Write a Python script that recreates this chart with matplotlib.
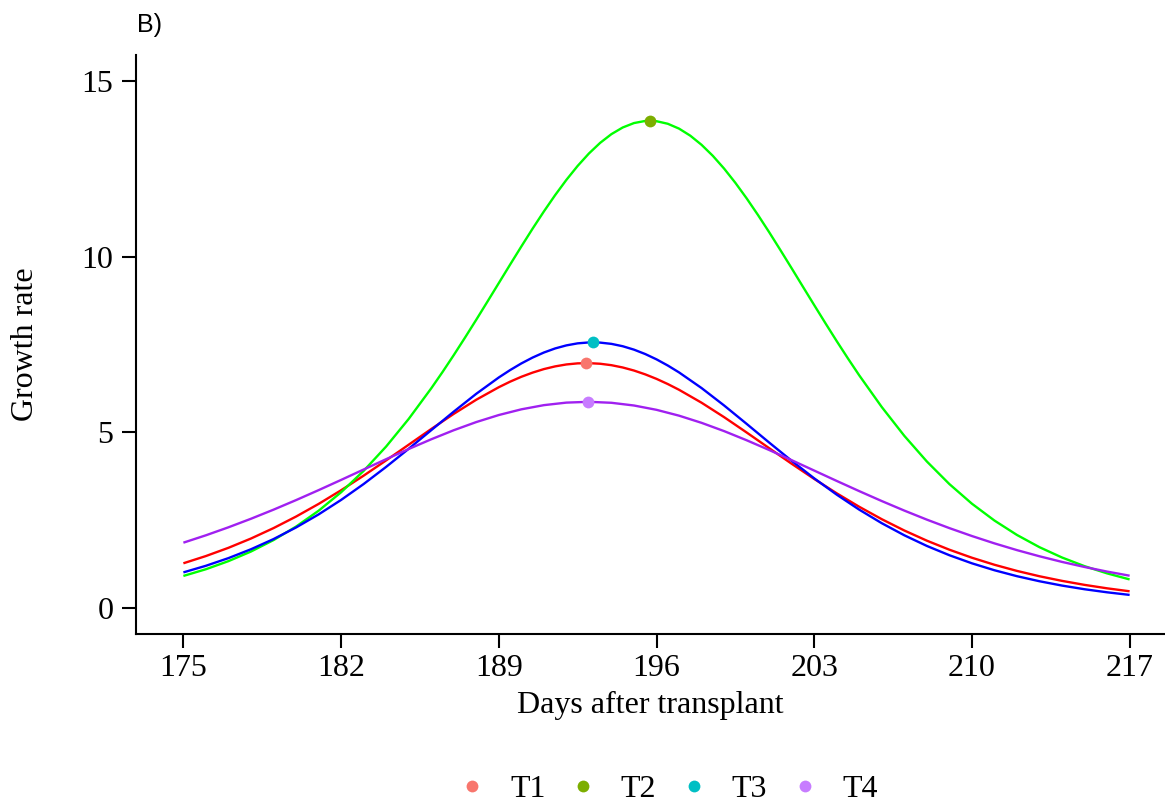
import matplotlib
matplotlib.use("Agg")
import matplotlib.pyplot as plt
from matplotlib.lines import Line2D

# ---- data ----
t1_days = [175, 176, 177, 178, 179, 180, 181, 182, 183, 184, 185, 186, 187, 188, 189,
           189.5, 190, 190.5, 191, 191.5, 192, 192.5, 193, 193.5, 194, 194.5, 195, 195.5,
           196, 196.5, 197, 198, 199, 200, 201, 202, 203, 204, 205, 206, 207, 208, 209,
           210, 211, 212, 213, 214, 215, 216, 217]
t1_rate = [1.279, 1.485, 1.719, 1.983, 2.279, 2.607, 2.966, 3.355, 3.770, 4.205, 4.650,
           5.096, 5.527, 5.929, 6.285,
           6.442, 6.581, 6.700, 6.800, 6.877, 6.932, 6.963, 6.969, 6.952, 6.911, 6.846,
           6.759, 6.650, 6.522, 6.375, 6.212,
           5.844, 5.434, 4.998, 4.552, 4.108, 3.677, 3.268, 2.885, 2.532, 2.211, 1.922,
           1.665, 1.437, 1.237, 1.062, 0.910, 0.779, 0.665, 0.567, 0.483]

t2_days = [175, 176, 177, 178, 179, 180, 181, 182, 183, 184, 185, 186,
           186.5, 187, 187.5, 188, 188.5, 189, 189.5, 190, 190.5, 191, 191.5, 192, 192.5,
           193, 193.5, 194, 194.5, 195, 195.5, 196, 196.5, 197, 197.5, 198, 198.5, 199,
           199.5, 200, 200.5, 201, 201.5, 202, 202.5, 203, 203.5, 204, 204.5, 205,
           206, 207, 208, 209, 210, 211, 212, 213, 214, 215, 216, 217]
t2_rate = [0.919, 1.110, 1.340, 1.613, 1.938, 2.322, 2.772, 3.298, 3.906, 4.599, 5.383, 6.252,
           6.715, 7.197, 7.695, 8.204, 8.723, 9.246, 9.769, 10.286, 10.793, 11.281, 11.746,
           12.180, 12.577, 12.930, 13.233, 13.481, 13.669, 13.795, 13.855, 13.848, 13.775,
           13.637, 13.436, 13.176, 12.863, 12.501, 12.096, 11.655, 11.185, 10.693, 10.183,
           9.665, 9.141, 8.619, 8.102, 7.594, 7.100, 6.621,
           5.720, 4.902, 4.173, 3.531, 2.973, 2.494, 2.084, 1.736, 1.443, 1.197, 0.992, 0.820]

t3_days = [175, 176, 177, 178, 179, 180, 181, 182, 183, 184, 185, 186, 187, 188, 189,
           189.5, 190, 190.5, 191, 191.5, 192, 192.5, 193, 193.5, 194, 194.5, 195, 195.5,
           196, 196.5, 197, 198, 199, 200, 201, 202, 203, 204, 205, 206, 207, 208, 209,
           210, 211, 212, 213, 214, 215, 216, 217]
t3_rate = [1.020, 1.208, 1.426, 1.678, 1.967, 2.297, 2.668, 3.080, 3.532, 4.020, 4.534,
           5.063, 5.590, 6.098, 6.562,
           6.771, 6.961, 7.128, 7.271, 7.387, 7.474, 7.532, 7.558, 7.553, 7.517, 7.450,
           7.353, 7.228, 7.077, 6.902, 6.706,
           6.261, 5.766, 5.243, 4.712, 4.192, 3.694, 3.230, 2.803, 2.418, 2.075, 1.772,
           1.508, 1.278, 1.081, 0.912, 0.768, 0.645, 0.541, 0.454, 0.380]

t4_days = list(range(175, 218))
t4_rate = [1.865, 2.075, 2.302, 2.545, 2.803, 3.075, 3.358, 3.649, 3.945, 4.239,
           4.528, 4.804, 5.062, 5.294, 5.494, 5.656, 5.775, 5.847, 5.870, 5.842,
           5.765, 5.642, 5.476, 5.272, 5.037, 4.777, 4.500, 4.210, 3.915, 3.620,
           3.330, 3.048, 2.777, 2.520, 2.279, 2.054, 1.845, 1.653, 1.478, 1.318,
           1.174, 1.043, 0.926]

treatments = ["T1", "T2", "T3", "T4"]
peak_day = [192.89, 195.70, 193.17, 192.95]
peak_rate = [6.97, 13.86, 7.56, 5.87]

x_ticks = [175, 182, 189, 196, 203, 210, 217]
y_ticks = [0, 5, 10, 15]

# ---- styling ----
line_colors = {"T1": "#FF0000", "T2": "#00FF00", "T3": "#0000FF", "T4": "#A020F0"}
dot_colors = {"T1": "#F8766D", "T2": "#7CAE00", "T3": "#00BFC4", "T4": "#C77CFF"}
serif = ["Liberation Serif", "DejaVu Serif"]
fs = 23

W, H = 1165, 799
fig = plt.figure(figsize=(W / 100, H / 100), dpi=100)
ax_left, ax_right, ax_top, ax_bottom = 136.3, 1165, 55, 634.3
ax = fig.add_axes([ax_left / W, 1 - ax_bottom / H, (ax_right - ax_left) / W, (ax_bottom - ax_top) / H])

series = {"T1": (t1_days, t1_rate), "T2": (t2_days, t2_rate),
          "T3": (t3_days, t3_rate), "T4": (t4_days, t4_rate)}
for name in ["T1", "T2", "T3", "T4"]:
    xs, ys = series[name]
    ax.plot(xs, ys, color=line_colors[name], lw=1.7, zorder=2,
            solid_capstyle="butt", solid_joinstyle="round")

for i, name in enumerate(treatments):
    ax.scatter([peak_day[i]], [peak_rate[i]], s=72, color=dot_colors[name],
               zorder=4, linewidths=0)

ax.set_xlim(172.91, 218.57)
ax.set_ylim(-0.74, 15.73)
ax.set_xticks(x_ticks)
ax.set_yticks(y_ticks)
ax.set_xticklabels([str(v) for v in x_ticks], fontfamily=serif, fontsize=fs)
ax.set_yticklabels([str(v) for v in y_ticks], fontfamily=serif, fontsize=fs)
ax.tick_params(axis="both", length=10, width=1.5, color="black")
ax.tick_params(axis="x", pad=4)
ax.tick_params(axis="y", pad=6.5)

for side in ["top", "right"]:
    ax.spines[side].set_visible(False)
for side in ["left", "bottom"]:
    ax.spines[side].set_linewidth(1.5)

ax.set_xlabel("Days after transplant", fontfamily=serif, fontsize=fs, labelpad=6)
ax.set_ylabel("Growth rate", fontfamily=serif, fontsize=fs, labelpad=30)

fig.text(137 / W, 1 - 25 / H, "B)", fontfamily=["Liberation Sans", "DejaVu Sans"],
         fontsize=18, ha="left", va="center")

handles = [Line2D([], [], linestyle="none", marker="o", markersize=8.5,
                  markerfacecolor=dot_colors[n], markeredgewidth=0) for n in treatments]
fig.legend(handles, treatments, loc="center", bbox_to_anchor=(671 / W, 1 - 789 / H),
           ncol=4, frameon=False, prop={"family": serif, "size": fs},
           handlelength=0.5, handletextpad=0.94, columnspacing=0.92, borderpad=0)

fig.savefig("out.png", dpi=100)
